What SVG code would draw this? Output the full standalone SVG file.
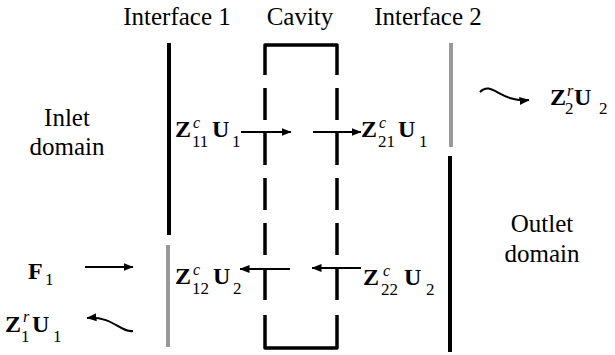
<svg xmlns="http://www.w3.org/2000/svg" width="615" height="355" viewBox="0 0 615 355">
<style>
.blk{stroke:#000;stroke-width:4;fill:none}
.gry{stroke:#999;stroke-width:4;fill:none}
.wall{stroke:#000;stroke-width:3.5;fill:none;stroke-linejoin:round}
.arr{stroke:#000;stroke-width:2;fill:none;marker-end:url(#ah)}
</style>
<defs>
<marker id="ah" viewBox="0 0 10 8" refX="9.5" refY="4" markerWidth="10" markerHeight="8" markerUnits="userSpaceOnUse" orient="auto">
<path d="M0,0 L10,4 L0,8 Z" fill="#000"/>
</marker>
</defs>
<rect width="615" height="355" fill="#fff"/>
<g id="titles" font-family="Liberation Serif, Times New Roman, serif" font-size="25" text-anchor="middle">
<text x="177" y="25">Interface 1</text>
<text x="300" y="25">Cavity</text>
<text x="428" y="25">Interface 2</text>
</g>
<g id="inlet-domain" font-family="Liberation Serif, Times New Roman, serif" font-size="25" text-anchor="middle">
<text x="67" y="126">Inlet</text>
<text x="67" y="155">domain</text>
</g>
<g id="outlet-domain" font-family="Liberation Serif, Times New Roman, serif" font-size="25" text-anchor="middle">
<text x="542" y="232">Outlet</text>
<text x="542" y="262">domain</text>
</g>
<g id="interface1">
<line class="blk" x1="169" y1="43" x2="169" y2="235"/>
<line class="gry" x1="168" y1="245" x2="168" y2="347"/>
</g>
<g id="interface2">
<line class="gry" x1="451" y1="43" x2="451" y2="147"/>
<line class="blk" x1="450" y1="156" x2="450" y2="352"/>
</g>
<g id="cavity">
<path class="wall" d="M265,75 V45 H337 V75"/>
<path class="wall" d="M265,315 V348 H337 V315"/>
<line class="wall" x1="265" y1="88" x2="265" y2="302" stroke-dasharray="32 13"/>
<line class="wall" x1="337" y1="88" x2="337" y2="302" stroke-dasharray="32 13"/>
</g>
<g id="labels" font-family="Liberation Serif, Times New Roman, serif" font-size="24" font-weight="bold">
<g id="label-Z11U1">
<text y="137"><tspan x="175">Z</tspan><tspan font-size="16" font-style="italic" font-weight="normal" x="193" y="128">c</tspan><tspan font-size="17" font-weight="normal" x="192" y="147">11</tspan><tspan x="212" y="137">U</tspan><tspan font-size="17" font-weight="normal" x="232" y="147">1</tspan></text>
</g>
<g id="label-Z21U1">
<text y="137"><tspan x="361">Z</tspan><tspan font-size="16" font-style="italic" font-weight="normal" x="379" y="128">c</tspan><tspan font-size="17" font-weight="normal" x="378" y="147">21</tspan><tspan x="398" y="137">U</tspan><tspan font-size="17" font-weight="normal" x="419" y="147">1</tspan></text>
</g>
<g id="label-Z12U2">
<text y="284"><tspan x="175">Z</tspan><tspan font-size="16" font-style="italic" font-weight="normal" x="193" y="275">c</tspan><tspan font-size="17" font-weight="normal" x="192" y="294">12</tspan><tspan x="213" y="284">U</tspan><tspan font-size="17" font-weight="normal" x="233" y="294">2</tspan></text>
</g>
<g id="label-Z22U2">
<text y="285"><tspan x="363">Z</tspan><tspan font-size="16" font-style="italic" font-weight="normal" x="383" y="276">c</tspan><tspan font-size="17" font-weight="normal" x="381" y="295">22</tspan><tspan x="404" y="285">U</tspan><tspan font-size="17" font-weight="normal" x="426" y="295">2</tspan></text>
</g>
<g id="label-F1">
<text y="279"><tspan x="28">F</tspan><tspan font-size="17" font-weight="normal" x="45" y="285">1</tspan></text>
</g>
<g id="label-Z1rU1">
<text y="332"><tspan x="5">Z</tspan><tspan font-size="16" font-style="italic" font-weight="normal" x="23" y="322">r</tspan><tspan font-size="17" font-weight="normal" x="21" y="342">1</tspan><tspan x="32" y="332">U</tspan><tspan font-size="17" font-weight="normal" x="53" y="342">1</tspan></text>
</g>
<g id="label-Z2rU2">
<text y="105"><tspan x="550">Z</tspan><tspan font-size="16" font-style="italic" font-weight="normal" x="567" y="96">r</tspan><tspan font-size="17" font-weight="normal" x="565" y="114">2</tspan><tspan x="574" y="105">U</tspan><tspan font-size="17" font-weight="normal" x="599" y="114">2</tspan></text>
</g>
</g>
<g id="connectors">
<line class="arr" x1="241" y1="132" x2="291" y2="132"/>
<line class="arr" x1="313" y1="132" x2="361" y2="132"/>
<line class="arr" x1="290" y1="269" x2="240" y2="269"/>
<line class="arr" x1="361" y1="268" x2="312" y2="268"/>
<line class="arr" x1="85" y1="267" x2="133" y2="267"/>
<path class="arr" d="M133,331 C120,333 114,316 87,318"/>
<path class="arr" d="M480,92 C492,80 500,103 529,100"/>
</g>
</svg>
